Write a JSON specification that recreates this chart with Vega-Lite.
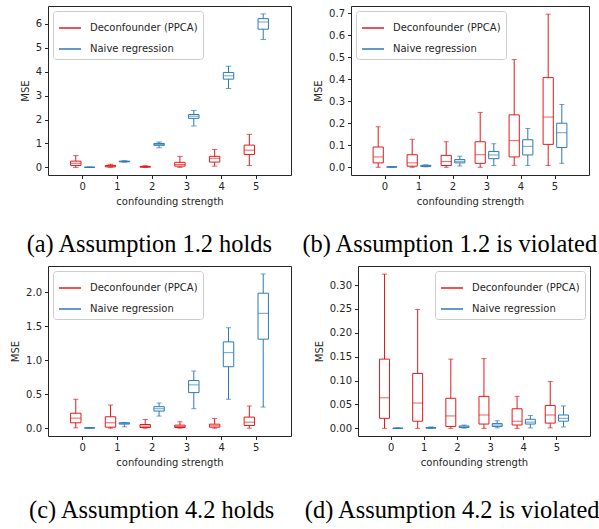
{
  "$schema": "https://vega.github.io/schema/vega-lite/v6.json",
  "padding": {"left": 10, "top": 5, "right": 5, "bottom": 5},
  "background": "white",
  "config": {
    "view": {"stroke": "#262626", "strokeWidth": 1},
    "axis": {"labelFont": "DejaVu Sans", "labelFontSize": 10, "titleFont": "DejaVu Sans", "titleFontSize": 10, "titleFontWeight": "normal", "labelColor": "#262626", "titleColor": "#262626", "tickColor": "#262626", "domain": false, "grid": false, "tickSize": 3.5, "labelPadding": 3, "titlePadding": 5, "labelOverlap": false, "minExtent": 0},
    "axisY": {"minExtent": 0},
    "legend": {"labelFont": "DejaVu Sans", "labelFontSize": 10, "labelColor": "#262626", "symbolType": "stroke", "symbolSize": 484, "symbolStrokeWidth": 1.5, "strokeColor": "#cccccc", "fillColor": "white", "padding": 5, "cornerRadius": 3, "offset": 5, "rowPadding": 4, "labelOffset": 8, "title": null}
  },
  "datasets": {
    "a": [
      {"s": 0, "m": "Deconfounder (PPCA)", "lo": 0, "q1": 0.08, "med": 0.17, "q3": 0.26, "hi": 0.49},
      {"s": 1, "m": "Deconfounder (PPCA)", "lo": 0, "q1": 0.02, "med": 0.05, "q3": 0.08, "hi": 0.13},
      {"s": 2, "m": "Deconfounder (PPCA)", "lo": 0, "q1": 0.01, "med": 0.02, "q3": 0.04, "hi": 0.07},
      {"s": 3, "m": "Deconfounder (PPCA)", "lo": 0, "q1": 0.05, "med": 0.12, "q3": 0.21, "hi": 0.46},
      {"s": 4, "m": "Deconfounder (PPCA)", "lo": 0.05, "q1": 0.22, "med": 0.38, "q3": 0.46, "hi": 0.75},
      {"s": 5, "m": "Deconfounder (PPCA)", "lo": 0.08, "q1": 0.54, "med": 0.72, "q3": 0.93, "hi": 1.38},
      {"s": 0, "m": "Naive regression", "lo": 0, "q1": 0.002, "med": 0.003, "q3": 0.005, "hi": 0.01},
      {"s": 1, "m": "Naive regression", "lo": 0.22, "q1": 0.23, "med": 0.245, "q3": 0.26, "hi": 0.28},
      {"s": 2, "m": "Naive regression", "lo": 0.82, "q1": 0.92, "med": 0.96, "q3": 1.0, "hi": 1.06},
      {"s": 3, "m": "Naive regression", "lo": 1.73, "q1": 2.05, "med": 2.14, "q3": 2.21, "hi": 2.38},
      {"s": 4, "m": "Naive regression", "lo": 3.3, "q1": 3.69, "med": 3.83, "q3": 3.97, "hi": 4.23},
      {"s": 5, "m": "Naive regression", "lo": 5.35, "q1": 5.78, "med": 6.08, "q3": 6.22, "hi": 6.42}
    ],
    "b": [
      {"s": 0, "m": "Deconfounder (PPCA)", "lo": 0, "q1": 0.02, "med": 0.047, "q3": 0.092, "hi": 0.184},
      {"s": 1, "m": "Deconfounder (PPCA)", "lo": 0, "q1": 0.005, "med": 0.02, "q3": 0.057, "hi": 0.127},
      {"s": 2, "m": "Deconfounder (PPCA)", "lo": 0, "q1": 0.008, "med": 0.026, "q3": 0.054, "hi": 0.116},
      {"s": 3, "m": "Deconfounder (PPCA)", "lo": 0, "q1": 0.018, "med": 0.057, "q3": 0.116, "hi": 0.249},
      {"s": 4, "m": "Deconfounder (PPCA)", "lo": 0.009, "q1": 0.047, "med": 0.121, "q3": 0.238, "hi": 0.489},
      {"s": 5, "m": "Deconfounder (PPCA)", "lo": 0.008, "q1": 0.104, "med": 0.228, "q3": 0.407, "hi": 0.695},
      {"s": 0, "m": "Naive regression", "lo": 0, "q1": 0.001, "med": 0.001, "q3": 0.002, "hi": 0.003},
      {"s": 1, "m": "Naive regression", "lo": 0.002, "q1": 0.004, "med": 0.006, "q3": 0.009, "hi": 0.011},
      {"s": 2, "m": "Naive regression", "lo": 0.006, "q1": 0.02, "med": 0.027, "q3": 0.035, "hi": 0.05},
      {"s": 3, "m": "Naive regression", "lo": 0.008, "q1": 0.039, "med": 0.056, "q3": 0.072, "hi": 0.107},
      {"s": 4, "m": "Naive regression", "lo": 0.008, "q1": 0.056, "med": 0.095, "q3": 0.125, "hi": 0.176},
      {"s": 5, "m": "Naive regression", "lo": 0.018, "q1": 0.09, "med": 0.157, "q3": 0.2, "hi": 0.285}
    ],
    "c": [
      {"s": 0, "m": "Deconfounder (PPCA)", "lo": 0.005, "q1": 0.079, "med": 0.148, "q3": 0.22, "hi": 0.425},
      {"s": 1, "m": "Deconfounder (PPCA)", "lo": 0, "q1": 0.015, "med": 0.079, "q3": 0.168, "hi": 0.34},
      {"s": 2, "m": "Deconfounder (PPCA)", "lo": 0, "q1": 0.01, "med": 0.03, "q3": 0.054, "hi": 0.128},
      {"s": 3, "m": "Deconfounder (PPCA)", "lo": 0, "q1": 0.01, "med": 0.025, "q3": 0.045, "hi": 0.094},
      {"s": 4, "m": "Deconfounder (PPCA)", "lo": 0, "q1": 0.015, "med": 0.035, "q3": 0.059, "hi": 0.143},
      {"s": 5, "m": "Deconfounder (PPCA)", "lo": 0, "q1": 0.04, "med": 0.089, "q3": 0.163, "hi": 0.326},
      {"s": 0, "m": "Naive regression", "lo": 0, "q1": 0.002, "med": 0.003, "q3": 0.005, "hi": 0.008},
      {"s": 1, "m": "Naive regression", "lo": 0.02, "q1": 0.06, "med": 0.07, "q3": 0.08, "hi": 0.084},
      {"s": 2, "m": "Naive regression", "lo": 0.178, "q1": 0.252, "med": 0.286, "q3": 0.316, "hi": 0.37},
      {"s": 3, "m": "Naive regression", "lo": 0.286, "q1": 0.523, "med": 0.637, "q3": 0.7, "hi": 0.84},
      {"s": 4, "m": "Naive regression", "lo": 0.425, "q1": 0.904, "med": 1.111, "q3": 1.269, "hi": 1.477},
      {"s": 5, "m": "Naive regression", "lo": 0.311, "q1": 1.309, "med": 1.689, "q3": 1.985, "hi": 2.267}
    ],
    "d": [
      {"s": 0, "m": "Deconfounder (PPCA)", "lo": 0, "q1": 0.021, "med": 0.064, "q3": 0.145, "hi": 0.323},
      {"s": 1, "m": "Deconfounder (PPCA)", "lo": 0, "q1": 0.015, "med": 0.053, "q3": 0.115, "hi": 0.249},
      {"s": 2, "m": "Deconfounder (PPCA)", "lo": 0, "q1": 0.004, "med": 0.026, "q3": 0.063, "hi": 0.145},
      {"s": 3, "m": "Deconfounder (PPCA)", "lo": 0, "q1": 0.009, "med": 0.028, "q3": 0.067, "hi": 0.146},
      {"s": 4, "m": "Deconfounder (PPCA)", "lo": 0, "q1": 0.007, "med": 0.015, "q3": 0.041, "hi": 0.067},
      {"s": 5, "m": "Deconfounder (PPCA)", "lo": 0.001, "q1": 0.011, "med": 0.028, "q3": 0.048, "hi": 0.098},
      {"s": 0, "m": "Naive regression", "lo": 0, "q1": 0, "med": 0, "q3": 0.0005, "hi": 0.001},
      {"s": 1, "m": "Naive regression", "lo": 0, "q1": 0.0005, "med": 0.001, "q3": 0.0015, "hi": 0.003},
      {"s": 2, "m": "Naive regression", "lo": 0.0005, "q1": 0.002, "med": 0.003, "q3": 0.005, "hi": 0.007},
      {"s": 3, "m": "Naive regression", "lo": 0.001, "q1": 0.004, "med": 0.007, "q3": 0.01, "hi": 0.016},
      {"s": 4, "m": "Naive regression", "lo": 0.001, "q1": 0.009, "med": 0.013, "q3": 0.019, "hi": 0.027},
      {"s": 5, "m": "Naive regression", "lo": 0.003, "q1": 0.015, "med": 0.021, "q3": 0.028, "hi": 0.047}
    ]
  },
  "resolve": {"scale": {"x": "independent", "y": "independent", "color": "independent", "xOffset": "independent"}, "legend": {"color": "independent"}, "axis": {"x": "independent", "y": "independent"}},
  "columns": 1,
  "align": "none",
  "spacing": 8,
  "concat": [
    {
      "title": {"text": "(a) Assumption 1.2 holds\u00a0\u00a0\u00a0\u00a0\u00a0(b) Assumption 1.2 is violated", "orient": "bottom", "anchor": "start", "font": "Liberation Serif", "fontSize": 24.4, "fontWeight": "normal", "color": "black", "offset": 26, "dx": 7},
      "spacing": 21,
      "resolve": {"scale": {"x": "independent", "y": "independent", "color": "independent", "xOffset": "independent"}, "legend": {"color": "independent"}, "axis": {"x": "independent", "y": "independent"}},
      "hconcat": [
        {
          "width": 243, "height": 169,
          "data": {"name": "a"},
          "encoding": {
            "x": {"field": "s", "type": "ordinal", "scale": {"paddingInner": 0, "paddingOuter": 0.5}, "axis": {"labelAngle": 0}, "title": "confounding strength"},
            "xOffset": {"field": "m", "type": "nominal", "scale": {"paddingInner": 0.25, "paddingOuter": 0.375}},
            "color": {"field": "m", "type": "nominal", "scale": {"domain": ["Deconfounder (PPCA)", "Naive regression"], "range": ["#e41a1c", "#2c7bb6"]}, "legend": {"orient": "top-left"}}
          },
          "layer": [
            {"mark": {"type": "rule", "strokeWidth": 1}, "encoding": {"y": {"field": "lo", "type": "quantitative", "title": "MSE", "scale": {"domain": [-0.32, 6.75], "nice": false, "zero": false}, "axis": {"values": [0, 1, 2, 3, 4, 5, 6], "minExtent": 0}}, "y2": {"field": "q1"}}},
            {"mark": {"type": "rule", "strokeWidth": 1}, "encoding": {"y": {"field": "q3", "type": "quantitative", "title": "MSE", "axis": {"values": [0, 1, 2, 3, 4, 5, 6], "minExtent": 0}}, "y2": {"field": "hi"}}},
            {"mark": {"type": "bar", "filled": false, "strokeWidth": 1}, "encoding": {"y": {"field": "q1", "type": "quantitative", "title": "MSE", "axis": {"values": [0, 1, 2, 3, 4, 5, 6], "minExtent": 0}}, "y2": {"field": "q3"}}},
            {"mark": {"type": "tick", "size": 10.5, "thickness": 1}, "encoding": {"y": {"field": "med", "type": "quantitative", "title": "MSE", "axis": {"values": [0, 1, 2, 3, 4, 5, 6], "minExtent": 0}}}},
            {"mark": {"type": "tick", "size": 5.5, "thickness": 1}, "encoding": {"y": {"field": "lo", "type": "quantitative", "title": "MSE", "axis": {"values": [0, 1, 2, 3, 4, 5, 6], "minExtent": 0}}}},
            {"mark": {"type": "tick", "size": 5.5, "thickness": 1}, "encoding": {"y": {"field": "hi", "type": "quantitative", "title": "MSE", "axis": {"values": [0, 1, 2, 3, 4, 5, 6], "minExtent": 0}}}}
          ]
        },
        {
          "width": 238, "height": 169,
          "data": {"name": "b"},
          "encoding": {
            "x": {"field": "s", "type": "ordinal", "scale": {"paddingInner": 0, "paddingOuter": 0.5}, "axis": {"labelAngle": 0}, "title": "confounding strength"},
            "xOffset": {"field": "m", "type": "nominal", "scale": {"paddingInner": 0.25, "paddingOuter": 0.375}},
            "color": {"field": "m", "type": "nominal", "scale": {"domain": ["Deconfounder (PPCA)", "Naive regression"], "range": ["#e41a1c", "#2c7bb6"]}, "legend": {"orient": "top-left"}}
          },
          "layer": [
            {"mark": {"type": "rule", "strokeWidth": 1}, "encoding": {"y": {"field": "lo", "type": "quantitative", "title": "MSE", "scale": {"domain": [-0.035, 0.732], "nice": false, "zero": false}, "axis": {"values": [0, 0.1, 0.2, 0.3, 0.4, 0.5, 0.6, 0.7], "format": ".1f", "minExtent": 0}}, "y2": {"field": "q1"}}},
            {"mark": {"type": "rule", "strokeWidth": 1}, "encoding": {"y": {"field": "q3", "type": "quantitative", "title": "MSE", "axis": {"values": [0, 0.1, 0.2, 0.3, 0.4, 0.5, 0.6, 0.7], "format": ".1f", "minExtent": 0}}, "y2": {"field": "hi"}}},
            {"mark": {"type": "bar", "filled": false, "strokeWidth": 1}, "encoding": {"y": {"field": "q1", "type": "quantitative", "title": "MSE", "axis": {"values": [0, 0.1, 0.2, 0.3, 0.4, 0.5, 0.6, 0.7], "format": ".1f", "minExtent": 0}}, "y2": {"field": "q3"}}},
            {"mark": {"type": "tick", "size": 10, "thickness": 1}, "encoding": {"y": {"field": "med", "type": "quantitative", "title": "MSE", "axis": {"values": [0, 0.1, 0.2, 0.3, 0.4, 0.5, 0.6, 0.7], "format": ".1f", "minExtent": 0}}}},
            {"mark": {"type": "tick", "size": 5, "thickness": 1}, "encoding": {"y": {"field": "lo", "type": "quantitative", "title": "MSE", "axis": {"values": [0, 0.1, 0.2, 0.3, 0.4, 0.5, 0.6, 0.7], "format": ".1f", "minExtent": 0}}}},
            {"mark": {"type": "tick", "size": 5, "thickness": 1}, "encoding": {"y": {"field": "hi", "type": "quantitative", "title": "MSE", "axis": {"values": [0, 0.1, 0.2, 0.3, 0.4, 0.5, 0.6, 0.7], "format": ".1f", "minExtent": 0}}}}
          ]
        }
      ]
    },
    {
      "title": {"text": "(c) Assumption 4.2 holds\u00a0\u00a0\u00a0\u00a0\u00a0(d) Assumption 4.2 is violated", "orient": "bottom", "anchor": "start", "font": "Liberation Serif", "fontSize": 24.4, "fontWeight": "normal", "color": "black", "offset": 31, "dx": 19},
      "spacing": 21,
      "resolve": {"scale": {"x": "independent", "y": "independent", "color": "independent", "xOffset": "independent"}, "legend": {"color": "independent"}, "axis": {"x": "independent", "y": "independent"}},
      "hconcat": [
        {
          "width": 243, "height": 170,
          "data": {"name": "c"},
          "encoding": {
            "x": {"field": "s", "type": "ordinal", "scale": {"paddingInner": 0, "paddingOuter": 0.5}, "axis": {"labelAngle": 0}, "title": "confounding strength"},
            "xOffset": {"field": "m", "type": "nominal", "scale": {"paddingInner": 0.25, "paddingOuter": 0.375}},
            "color": {"field": "m", "type": "nominal", "scale": {"domain": ["Deconfounder (PPCA)", "Naive regression"], "range": ["#e41a1c", "#2c7bb6"]}, "legend": {"orient": "top-left"}}
          },
          "layer": [
            {"mark": {"type": "rule", "strokeWidth": 1}, "encoding": {"y": {"field": "lo", "type": "quantitative", "title": "MSE", "scale": {"domain": [-0.115, 2.385], "nice": false, "zero": false}, "axis": {"values": [0, 0.5, 1, 1.5, 2], "format": ".1f", "minExtent": 0}}, "y2": {"field": "q1"}}},
            {"mark": {"type": "rule", "strokeWidth": 1}, "encoding": {"y": {"field": "q3", "type": "quantitative", "title": "MSE", "axis": {"values": [0, 0.5, 1, 1.5, 2], "format": ".1f", "minExtent": 0}}, "y2": {"field": "hi"}}},
            {"mark": {"type": "bar", "filled": false, "strokeWidth": 1}, "encoding": {"y": {"field": "q1", "type": "quantitative", "title": "MSE", "axis": {"values": [0, 0.5, 1, 1.5, 2], "format": ".1f", "minExtent": 0}}, "y2": {"field": "q3"}}},
            {"mark": {"type": "tick", "size": 10, "thickness": 1}, "encoding": {"y": {"field": "med", "type": "quantitative", "title": "MSE", "axis": {"values": [0, 0.5, 1, 1.5, 2], "format": ".1f", "minExtent": 0}}}},
            {"mark": {"type": "tick", "size": 5, "thickness": 1}, "encoding": {"y": {"field": "lo", "type": "quantitative", "title": "MSE", "axis": {"values": [0, 0.5, 1, 1.5, 2], "format": ".1f", "minExtent": 0}}}},
            {"mark": {"type": "tick", "size": 5, "thickness": 1}, "encoding": {"y": {"field": "hi", "type": "quantitative", "title": "MSE", "axis": {"values": [0, 0.5, 1, 1.5, 2], "format": ".1f", "minExtent": 0}}}}
          ]
        },
        {
          "width": 232, "height": 170,
          "data": {"name": "d"},
          "encoding": {
            "x": {"field": "s", "type": "ordinal", "scale": {"paddingInner": 0, "paddingOuter": 0.5}, "axis": {"labelAngle": 0}, "title": "confounding strength"},
            "xOffset": {"field": "m", "type": "nominal", "scale": {"paddingInner": 0.25, "paddingOuter": 0.375}},
            "color": {"field": "m", "type": "nominal", "scale": {"domain": ["Deconfounder (PPCA)", "Naive regression"], "range": ["#e41a1c", "#2c7bb6"]}, "legend": {"orient": "top-right"}}
          },
          "layer": [
            {"mark": {"type": "rule", "strokeWidth": 1}, "encoding": {"y": {"field": "lo", "type": "quantitative", "title": "MSE", "scale": {"domain": [-0.016, 0.34], "nice": false, "zero": false}, "axis": {"values": [0, 0.05, 0.1, 0.15, 0.2, 0.25, 0.3], "format": ".2f", "minExtent": 0}}, "y2": {"field": "q1"}}},
            {"mark": {"type": "rule", "strokeWidth": 1}, "encoding": {"y": {"field": "q3", "type": "quantitative", "title": "MSE", "axis": {"values": [0, 0.05, 0.1, 0.15, 0.2, 0.25, 0.3], "format": ".2f", "minExtent": 0}}, "y2": {"field": "hi"}}},
            {"mark": {"type": "bar", "filled": false, "strokeWidth": 1}, "encoding": {"y": {"field": "q1", "type": "quantitative", "title": "MSE", "axis": {"values": [0, 0.05, 0.1, 0.15, 0.2, 0.25, 0.3], "format": ".2f", "minExtent": 0}}, "y2": {"field": "q3"}}},
            {"mark": {"type": "tick", "size": 10, "thickness": 1}, "encoding": {"y": {"field": "med", "type": "quantitative", "title": "MSE", "axis": {"values": [0, 0.05, 0.1, 0.15, 0.2, 0.25, 0.3], "format": ".2f", "minExtent": 0}}}},
            {"mark": {"type": "tick", "size": 5, "thickness": 1}, "encoding": {"y": {"field": "lo", "type": "quantitative", "title": "MSE", "axis": {"values": [0, 0.05, 0.1, 0.15, 0.2, 0.25, 0.3], "format": ".2f", "minExtent": 0}}}},
            {"mark": {"type": "tick", "size": 5, "thickness": 1}, "encoding": {"y": {"field": "hi", "type": "quantitative", "title": "MSE", "axis": {"values": [0, 0.05, 0.1, 0.15, 0.2, 0.25, 0.3], "format": ".2f", "minExtent": 0}}}}
          ]
        }
      ]
    }
  ]
}
